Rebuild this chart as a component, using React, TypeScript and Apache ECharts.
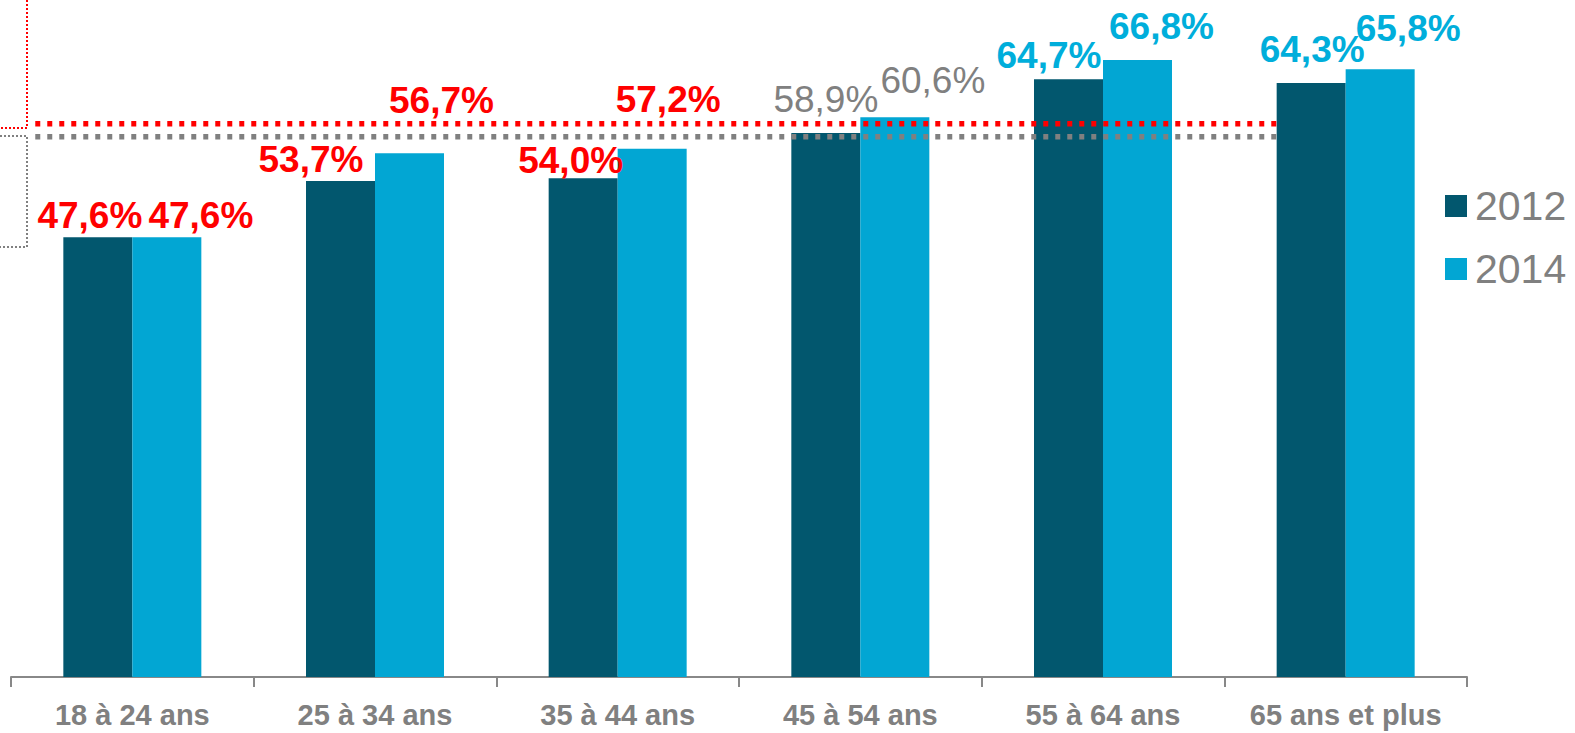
import { useEffect, useRef } from "react";
import * as echarts from "echarts";

// Age groups and the share for each survey year (%)
const categories = [
  "18 à 24 ans",
  "25 à 34 ans",
  "35 à 44 ans",
  "45 à 54 ans",
  "55 à 64 ans",
  "65 ans et plus",
];
const values2012 = [47.6, 53.7, 54.0, 58.9, 64.7, 64.3];
const values2014 = [47.6, 56.7, 57.2, 60.6, 66.8, 65.8];
const seriesNames = ["2012", "2014"];

// Reference levels drawn as dotted lines across the groups
const average2014 = 59.9;
const average2012 = 58.5;
// Extent of the reference lines, in category units
const refLineStart = -0.4;
const refLineEnd = 4.716;

// Label tone per age group
const labelTone = ["red", "red", "red", "grey", "blue", "blue"];

const toneStyles: Record<string, { color: string; fontWeight: string }> = {
  red: { color: "#FF0000", fontWeight: "bold" },
  grey: { color: "#808080", fontWeight: "normal" },
  blue: { color: "#00AEDB", fontWeight: "bold" },
};

// Label nudges [dx, dy] so neighbouring labels do not collide
const labelShift2012 = [
  [-8, -4],
  [-29.5, -3],
  [-12.5, 0],
  [0, -15],
  [-19.5, -6],
  [1, -16],
];
const labelShift2014 = [
  [34, -4],
  [32, -35],
  [16, -31],
  [38, -19],
  [24, -15.5],
  [28, -23],
];

const DARK = "#02576E";
const LIGHT = "#02A6D3";
const AXIS_GREY = "#888888";
const TEXT_GREY = "#808080";
const SANS = "'Liberation Sans', Arial, Helvetica, sans-serif";

const fmt = (v: number) => v.toFixed(1).replace(".", ",") + "%";

function barData(values: number[], shifts: number[][]) {
  return values.map((v, i) => ({
    value: v,
    label: {
      ...toneStyles[labelTone[i]],
      offset: shifts[i],
    },
  }));
}

export default function App() {
  const ref = useRef<HTMLDivElement>(null);

  useEffect(() => {
    if (!ref.current) return;
    const chart = echarts.init(ref.current, undefined, { renderer: "svg" });

    const barLabel = {
      show: true,
      position: "top",
      distance: 0,
      fontSize: 37,
      lineHeight: 36,
      fontFamily: SANS,
      formatter: (p: any) => fmt(p.value),
    };

    chart.setOption({
      animation: false,
      backgroundColor: "#ffffff",
      grid: { left: 11, right: 108, top: 30.4, bottom: 56, containLabel: false },
      legend: {
        data: seriesNames,
        orient: "vertical",
        left: 1445,
        top: 185,
        padding: 0,
        itemWidth: 22,
        itemHeight: 22,
        itemGap: 21,
        icon: "rect",
        textStyle: {
          color: TEXT_GREY,
          fontSize: 41,
          lineHeight: 42,
          fontFamily: SANS,
          padding: [0, 0, 0, 3],
        },
      },
      xAxis: [
        {
          type: "category",
          data: categories,
          axisLine: { show: true, lineStyle: { color: AXIS_GREY, width: 2 } },
          axisTick: {
            show: true,
            alignWithLabel: false,
            length: 10,
            lineStyle: { color: AXIS_GREY, width: 2 },
          },
          axisLabel: {
            color: TEXT_GREY,
            fontSize: 29,
            fontWeight: "bold",
            fontFamily: SANS,
            margin: 23,
            interval: 0,
          },
          splitLine: { show: false },
        },
        {
          type: "value",
          min: -0.5,
          max: 5.5,
          show: false,
        },
      ],
      yAxis: {
        type: "value",
        min: 0,
        max: 70,
        show: false,
      },
      series: [
        {
          name: seriesNames[0],
          type: "bar",
          barWidth: 69,
          barGap: "0%",
          itemStyle: { color: DARK },
          label: barLabel,
          data: barData(values2012, labelShift2012),
          z: 2,
        },
        {
          name: seriesNames[1],
          type: "bar",
          barWidth: 69,
          barGap: "0%",
          itemStyle: { color: LIGHT },
          label: barLabel,
          data: barData(values2014, labelShift2014),
          z: 2,
        },
        {
          name: "ref2014",
          type: "line",
          xAxisIndex: 1,
          symbol: "none",
          silent: true,
          z: 5,
          lineStyle: { color: "#FF0000", width: 5.5, type: [5, 7], cap: "butt" },
          data: [
            [refLineStart, average2014],
            [refLineEnd, average2014],
          ],
        },
        {
          name: "ref2012",
          type: "line",
          xAxisIndex: 1,
          symbol: "none",
          silent: true,
          z: 5,
          lineStyle: { color: "#808080", width: 5.5, type: [5, 7], cap: "butt" },
          data: [
            [refLineStart, average2012],
            [refLineEnd, average2012],
          ],
        },
      ],
      graphic: [
        {
          type: "polyline",
          silent: true,
          shape: { points: [[27, 0], [27, 128], [0, 128]] },
          style: { stroke: "#FF0000", lineWidth: 2, lineDash: [2, 2], fill: null },
        },
        {
          type: "polyline",
          silent: true,
          shape: { points: [[0, 136], [27, 136], [27, 247], [0, 247]] },
          style: { stroke: "#808080", lineWidth: 2, lineDash: [2, 2], fill: null },
        },
      ],
    });

    return () => chart.dispose();
  }, []);

  return (
    <div
      ref={ref}
      style={{ position: "fixed", left: 0, top: 0, width: 1575, height: 733, background: "#fff" }}
    />
  );
}
